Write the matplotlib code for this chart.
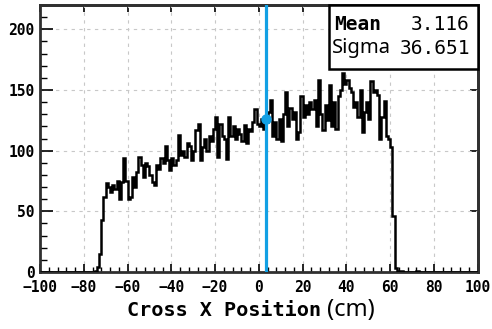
import numpy as np
import matplotlib
matplotlib.use('Agg')
import matplotlib.pyplot as plt
from matplotlib.ticker import MultipleLocator
from matplotlib.patches import Rectangle

# histogram: 1 cm bins from -100 to 100
x_lo = -100
x_hi = 100
counts = [
    # -100 .. -77
    0, 0, 0, 0, 0, 0, 0, 0, 0, 0, 0, 0, 0, 0, 0, 0, 0, 0, 0, 0, 0, 0, 0, 0,
    # -76 .. -51
    0, 1, 4, 15, 43, 62, 73, 70, 66, 72, 68, 75, 60, 74, 94, 75, 60, 62, 78, 70,
    82, 95, 88, 78, 90, 87,
    # -50 .. -21
    80, 74, 72, 88, 85, 94, 90, 104, 92, 84, 94, 88, 92, 113, 96, 100, 95, 106,
    104, 92, 100, 117, 122, 92, 103, 110, 100, 112, 108, 118,
    # -20 .. 9
    128, 95, 122, 112, 110, 93, 128, 112, 120, 110, 118, 114, 108, 121, 106, 118,
    116, 124, 134, 122, 120, 126, 118, 124, 132, 142, 112, 124, 110, 126,
    # 10 .. 39
    108, 130, 148, 120, 135, 126, 132, 110, 115, 145, 128, 138, 130, 140, 134,
    142, 120, 158, 130, 117, 138, 125, 154, 120, 140, 118, 145, 150, 164, 155,
    # 40 .. 69
    158, 152, 148, 136, 140, 128, 150, 115, 132, 140, 126, 157, 148, 150, 146,
    110, 128, 141, 112, 110, 103, 46, 3, 1, 1, 1, 0, 0, 0, 0,
    # 70 .. 99
    0, 0, 1, 0, 0, 0, 0, 0, 0, 0, 0, 0, 0, 0, 0, 0, 0, 0, 0, 0,
    0, 0, 0, 0, 0, 0, 0, 0, 0, 0,
]
mean_x = 3.116
sigma_x = 36.651
mean_y = 126

edges = np.arange(x_lo, x_hi + 1, 1)

fig = plt.figure(figsize=(4.92, 3.29), dpi=100)
ax = fig.add_axes([40/492, 1-272/329, 437.7/492, 267/329])

ax.stairs(counts, edges, color='black', linewidth=1.8, zorder=3)
ax.axvline(mean_x, color='#12a0e4', linewidth=2.3, zorder=4)
ax.plot([mean_x], [mean_y], 'o', color='#12a0e4', markersize=6.5, zorder=5)

ax.set_xlim(x_lo, x_hi)
ax.set_ylim(0, 220)
ax.xaxis.set_major_locator(MultipleLocator(20))
ax.xaxis.set_minor_locator(MultipleLocator(4))
ax.yaxis.set_major_locator(MultipleLocator(50))
ax.yaxis.set_minor_locator(MultipleLocator(10))

ax.grid(True, which='major', color='#c8c8c8', linestyle=(0, (3, 4)), linewidth=0.8)
ax.set_axisbelow(True)

ax.tick_params(axis='x', which='major', direction='in', length=6, width=1.2, pad=6)
ax.tick_params(axis='x', which='minor', direction='in', length=3.6, width=1.0)
ax.tick_params(axis='y', which='major', direction='in', length=9, width=1.2, pad=4)
ax.tick_params(axis='y', which='minor', direction='in', length=5, width=1.0)
for lab in ax.get_xticklabels() + ax.get_yticklabels():
    lab.set_family('DejaVu Sans Mono')
    lab.set_weight('bold')
    lab.set_fontsize(10.5)

# top and right: major ticks only
top = ax.secondary_xaxis('top')
top.xaxis.set_major_locator(MultipleLocator(20))
top.tick_params(direction='in', length=5, width=1.2, labeltop=False)
right = ax.secondary_yaxis('right')
right.yaxis.set_major_locator(MultipleLocator(50))
right.tick_params(direction='in', length=6, width=1.2, labelright=False)

for sp in list(ax.spines.values()) + [top.spines['top'], right.spines['right']]:
    sp.set_linewidth(2)
    sp.set_color('#303030')

# stats box
box = Rectangle((329/492, 1-69/329), 148.7/492, 64/329, transform=fig.transFigure,
                facecolor='white', edgecolor='black', linewidth=1.8, zorder=10)
fig.patches.append(box)
fig.text(334/492, 1-24/329, 'Mean', family='DejaVu Sans Mono', weight='bold',
         fontsize=14, va='center', ha='left', zorder=11)
fig.text(470/492, 1-24/329, '%.3f' % mean_x, family='DejaVu Sans Mono',
         fontsize=14, va='center', ha='right', zorder=11)
fig.text(332/492, 1-48/329, 'Sigma', family='Noto Sans', fontsize=14.5,
         va='center', ha='left', zorder=11)
fig.text(470/492, 1-48/329, '%.3f' % sigma_x, family='DejaVu Sans Mono',
         fontsize=14, va='center', ha='right', zorder=11)

# x axis title
fig.text(127/492, 1-310/329, 'Cross X Position', family='DejaVu Sans Mono',
         weight='bold', fontsize=14.5, va='center', ha='left')
fig.text(327/492, 1-310/329, '(cm)', family='Noto Sans', fontsize=17,
         va='center', ha='left')

fig.savefig('out.png', dpi=100)
